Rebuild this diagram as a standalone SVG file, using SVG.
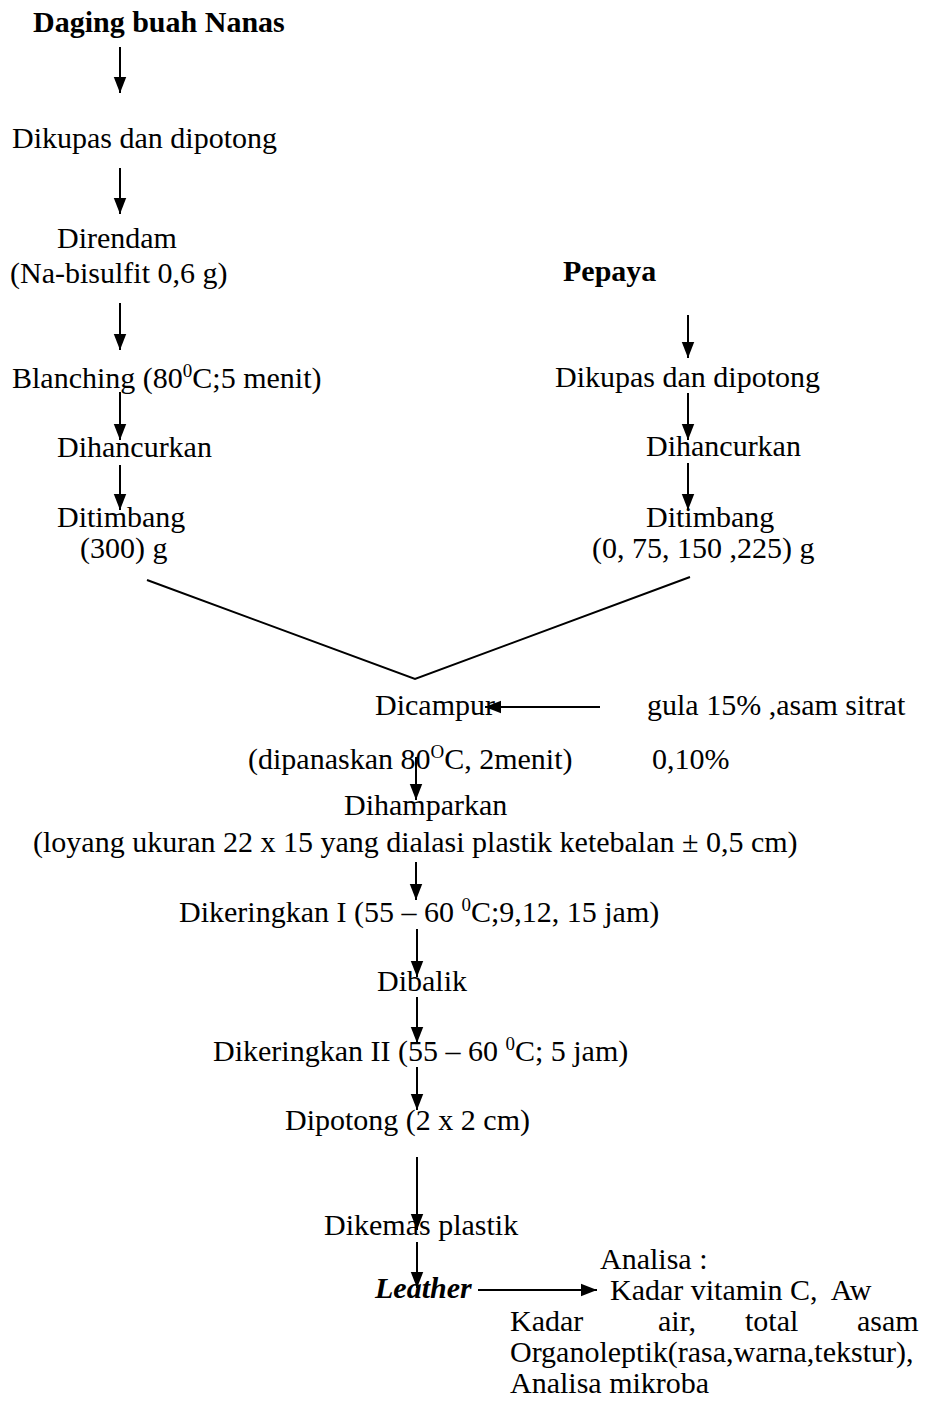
<svg xmlns="http://www.w3.org/2000/svg" width="926" height="1411" viewBox="0 0 926 1411">
<defs>
<marker id="ah" markerUnits="userSpaceOnUse" markerWidth="16" markerHeight="20" refX="18" refY="7" orient="auto" viewBox="0 0 18 14">
<path d="M0,0 L18,7 L0,14 Z" fill="#000"/>
</marker>
<style>
text{font-family:"Liberation Serif","Times New Roman",serif;font-size:30px;fill:#000}
.b{font-weight:bold}
.bi{font-weight:bold;font-style:italic}
.sup{font-size:19px}
.pre{white-space:pre}
#connectors line,#connectors polyline{stroke:#000;stroke-width:2;fill:none}
</style>
</defs>
<rect width="926" height="1411" fill="#fff"/>
<g id="connectors">
<line x1="120" y1="47" x2="120" y2="93" marker-end="url(#ah)"/>
<line x1="120" y1="168" x2="120" y2="214" marker-end="url(#ah)"/>
<line x1="120" y1="303" x2="120" y2="350" marker-end="url(#ah)"/>
<line x1="120" y1="392" x2="120" y2="440" marker-end="url(#ah)"/>
<line x1="120" y1="465" x2="120" y2="510" marker-end="url(#ah)"/>
<line x1="688" y1="315" x2="688" y2="358" marker-end="url(#ah)"/>
<line x1="688" y1="393" x2="688" y2="440" marker-end="url(#ah)"/>
<line x1="688" y1="463" x2="688" y2="510" marker-end="url(#ah)"/>
<polyline points="147,580 415,679 690,577"/>
<line x1="600" y1="707" x2="485" y2="707" marker-end="url(#ah)"/>
<line x1="416" y1="757" x2="416" y2="800" marker-end="url(#ah)"/>
<line x1="416" y1="862" x2="416" y2="900" marker-end="url(#ah)"/>
<line x1="417" y1="929" x2="417" y2="977" marker-end="url(#ah)"/>
<line x1="417" y1="997" x2="417" y2="1043" marker-end="url(#ah)"/>
<line x1="417" y1="1067" x2="417" y2="1110" marker-end="url(#ah)"/>
<line x1="417" y1="1157" x2="417" y2="1230" marker-end="url(#ah)"/>
<line x1="417" y1="1242" x2="417" y2="1288" marker-end="url(#ah)"/>
<line x1="478" y1="1290" x2="597" y2="1290" marker-end="url(#ah)"/>
</g>
<g id="n-daging"><text class="b" x="33" y="32">Daging buah Nanas</text></g>
<g id="n-kupas1"><text x="12" y="148">Dikupas dan dipotong</text></g>
<g id="n-rendam"><text x="57" y="248">Direndam</text><text x="10" y="283">(Na-bisulfit 0,6 g)</text></g>
<g id="n-blanch"><text x="12" y="388">Blanching (80<tspan class="sup" dy="-11">0</tspan><tspan dy="11">C;5 menit)</tspan></text></g>
<g id="n-hancur1"><text x="57" y="457">Dihancurkan</text></g>
<g id="n-timbang1"><text x="57" y="527">Ditimbang</text><text x="80" y="558">(300) g</text></g>
<g id="n-pepaya"><text class="b" x="563" y="281">Pepaya</text></g>
<g id="n-kupas2"><text x="555" y="387">Dikupas dan dipotong</text></g>
<g id="n-hancur2"><text x="646" y="456">Dihancurkan</text></g>
<g id="n-timbang2"><text x="646" y="527">Ditimbang</text><text x="592" y="558">(0, 75, 150 ,225) g</text></g>
<g id="n-campur"><text x="375" y="715">Dicampur</text><text x="248" y="769">(dipanaskan 80<tspan class="sup" dy="-11">O</tspan><tspan dy="11">C, 2menit)</tspan></text></g>
<g id="n-gula"><text x="647" y="715">gula 15% ,asam sitrat</text><text x="652" y="769">0,10%</text></g>
<g id="n-hampar"><text x="344" y="815">Dihamparkan</text><text x="33" y="852">(loyang ukuran 22 x 15 yang dialasi plastik ketebalan ± 0,5 cm)</text></g>
<g id="n-kering1"><text x="179" y="922">Dikeringkan I (55 – 60 <tspan class="sup" dy="-11">0</tspan><tspan dy="11">C;9,12, 15 jam)</tspan></text></g>
<g id="n-balik"><text x="377" y="991">Dibalik</text></g>
<g id="n-kering2"><text x="213" y="1061">Dikeringkan II (55 – 60 <tspan class="sup" dy="-11">0</tspan><tspan dy="11">C; 5 jam)</tspan></text></g>
<g id="n-potong"><text x="285" y="1130">Dipotong (2 x 2 cm)</text></g>
<g id="n-kemas"><text x="324" y="1235">Dikemas plastik</text></g>
<g id="n-leather"><text class="bi" x="375" y="1298">Leather</text></g>
<g id="n-analisa"><text x="600" y="1269">Analisa :</text><text class="pre" x="610" y="1300">Kadar vitamin C,  Aw</text><text y="1331"><tspan x="510">Kadar</tspan><tspan x="658">air,</tspan><tspan x="745">total</tspan><tspan x="857">asam</tspan></text><text x="510" y="1362">Organoleptik(rasa,warna,tekstur),</text><text x="510" y="1393">Analisa mikroba</text></g>
</svg>
